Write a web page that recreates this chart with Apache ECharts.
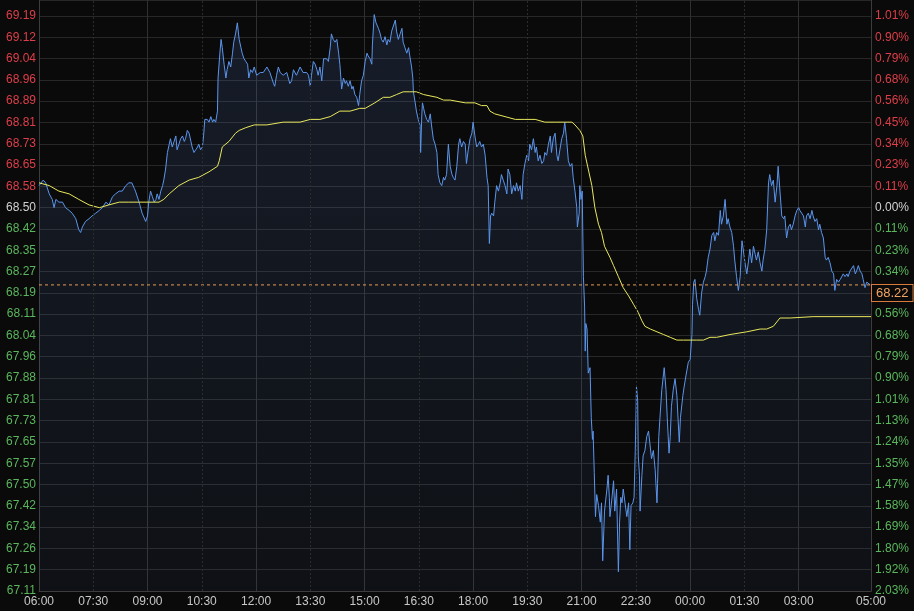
<!DOCTYPE html>
<html><head><meta charset="utf-8">
<script src="https://cdn.jsdelivr.net/npm/echarts@6/dist/echarts.min.js"></script>
<style>html,body{margin:0;padding:0;background:#0a0a0a}#c{width:914px;height:611px}</style>
</head><body><div id="c"></div>
<script>
// minutes since the 06:00 session open
const sessionOpenMinutes = 360;
const sessionLengthMinutes = 1380;
const prevClose = 68.50;
const lastPrice = 68.22;
const yMin = 67.1104, yStep = 0.0772, yMax = 69.2528;
const xLabelMinutes = [0, 90, 180, 270, 360, 450, 540, 630, 720, 810, 900, 990, 1080, 1170, 1260, 1380];
const xDottedMinutes = [90, 270, 450, 630, 810, 990, 1170];

const priceTicks = [
[0,68.58],[7,68.60],[11,68.59],[17,68.55],[22,68.53],[25,68.50],[28,68.53],[33,68.52],[39,68.52],[44,68.50],
[50,68.49],[55,68.48],[61,68.46],[66,68.42],[69,68.41],[72,68.43],[77,68.45],[83,68.46],[88,68.47],[94,68.48],
[100,68.49],[105,68.50],[111,68.52],[116,68.51],[122,68.54],[127,68.55],[133,68.56],[138,68.56],[144,68.58],[149,68.59],
[154,68.59],[158,68.57],[160,68.56],[166,68.52],[171,68.48],[177,68.45],[180,68.47],[182,68.52],[185,68.56],[188,68.54],
[191,68.52],[194,68.53],[196,68.55],[199,68.53],[202,68.56],[205,68.58],[207,68.60],[210,68.64],[213,68.70],[216,68.73],
[218,68.75],[221,68.72],[224,68.74],[227,68.76],[229,68.71],[232,68.73],[235,68.75],[238,68.76],[241,68.74],[243,68.75],
[246,68.78],[249,68.77],[252,68.74],[254,68.72],[257,68.70],[260,68.71],[263,68.72],[265,68.73],[268,68.71],[271,68.72],
[273,68.76],[275,68.82],[279,68.82],[282,68.81],[285,68.83],[288,68.81],[290,68.82],[293,68.81],[296,68.85],[297,68.97],
[300,69.06],[302,69.11],[304,69.08],[307,69.02],[310,68.97],[312,69.00],[315,69.03],[318,69.01],[321,69.06],[323,69.10],
[326,69.13],[329,69.17],[332,69.11],[335,69.08],[337,69.06],[340,69.04],[343,69.03],[346,69.02],[348,68.97],[351,69.00],
[354,68.99],[357,69.01],[361,68.98],[367,68.99],[372,68.99],[378,69.01],[380,69.01],[383,68.99],[389,68.95],[391,68.94],
[394,68.98],[397,69.01],[400,68.99],[405,68.98],[411,68.99],[416,68.95],[419,68.96],[422,69.00],[427,68.98],[433,69.01],
[438,68.99],[444,68.99],[447,68.98],[450,68.94],[452,68.98],[455,69.03],[458,69.02],[461,69.00],[463,68.98],[466,69.01],
[469,68.96],[472,69.04],[474,69.04],[477,69.04],[480,69.03],[483,69.08],[485,69.13],[488,69.11],[491,69.10],[494,69.11],
[497,69.06],[499,69.02],[502,68.93],[505,68.97],[508,68.95],[510,68.96],[513,68.94],[516,68.96],[519,68.93],[521,68.94],
[524,68.91],[527,68.90],[530,68.87],[532,68.91],[535,68.96],[538,68.98],[541,69.03],[544,69.06],[546,69.05],[549,69.04],
[552,69.02],[553,69.09],[556,69.20],[559,69.17],[563,69.15],[566,69.13],[568,69.11],[571,69.10],[574,69.12],[577,69.09],
[579,69.11],[582,69.10],[585,69.14],[588,69.14],[591,69.18],[593,69.14],[596,69.11],[599,69.13],[602,69.15],[604,69.10],
[607,69.08],[610,69.06],[613,69.08],[615,69.05],[618,69.01],[620,68.97],[621,68.92],[624,68.88],[626,68.85],[629,68.82],
[632,68.80],[633,68.70],[635,68.84],[636,68.88],[638,68.86],[640,68.84],[643,68.82],[646,68.81],[649,68.84],[651,68.80],
[654,68.75],[657,68.73],[660,68.70],[662,68.62],[665,68.59],[668,68.58],[671,68.61],[673,68.60],[676,68.62],[679,68.73],
[682,68.65],[685,68.62],[687,68.61],[690,68.60],[693,68.65],[696,68.73],[698,68.75],[701,68.72],[704,68.74],[707,68.73],
[709,68.66],[712,68.71],[715,68.75],[718,68.77],[720,68.81],[723,68.76],[726,68.72],[729,68.73],[731,68.74],[734,68.72],
[737,68.73],[740,68.69],[743,68.61],[745,68.58],[747,68.37],[749,68.47],[751,68.48],[754,68.47],[756,68.52],[759,68.58],
[762,68.56],[765,68.59],[767,68.62],[770,68.60],[773,68.58],[776,68.55],[778,68.64],[781,68.62],[784,68.55],[787,68.58],
[790,68.56],[792,68.59],[795,68.56],[798,68.58],[801,68.53],[803,68.62],[806,68.66],[809,68.69],[812,68.67],[814,68.73],
[817,68.71],[820,68.75],[823,68.70],[825,68.72],[828,68.67],[831,68.69],[834,68.66],[837,68.67],[839,68.70],[842,68.69],
[845,68.73],[848,68.76],[850,68.70],[853,68.75],[856,68.77],[859,68.69],[861,68.67],[864,68.71],[867,68.75],[870,68.77],
[872,68.81],[875,68.75],[878,68.67],[881,68.65],[884,68.66],[886,68.61],[889,68.56],[892,68.50],[893,68.43],[896,68.48],
[897,68.58],[899,68.53],[901,68.56],[903,68.25],[905,68.14],[906,67.98],[907,68.08],[909,68.06],[911,67.90],[914,67.92],
[916,67.74],[918,67.66],[919,67.69],[921,67.54],[923,67.38],[925,67.46],[928,67.42],[931,67.36],[933,67.43],[935,67.22],
[938,67.40],[942,67.48],[944,67.53],[946,67.45],[947,67.38],[950,67.44],[953,67.51],[955,67.40],[958,67.48],[961,67.18],
[963,67.36],[965,67.45],[967,67.43],[969,67.48],[972,67.43],[975,67.38],[978,67.43],[980,67.26],[982,67.42],[985,67.43],
[987,67.45],[989,67.62],[991,67.85],[993,67.80],[994,67.60],[996,67.53],[997,67.40],[1000,67.53],[1002,67.60],[1005,67.62],
[1008,67.67],[1011,67.69],[1013,67.65],[1016,67.59],[1019,67.62],[1022,67.55],[1025,67.43],[1026,67.50],[1028,67.67],[1030,67.74],
[1033,67.84],[1036,67.90],[1037,67.92],[1040,67.84],[1042,67.74],[1045,67.61],[1047,67.67],[1049,67.78],[1052,67.84],[1055,67.88],
[1058,67.82],[1061,67.69],[1062,67.65],[1064,67.74],[1068,67.82],[1070,67.85],[1073,67.89],[1077,67.94],[1080,67.95],[1083,68.04],
[1084,68.15],[1086,68.23],[1088,68.24],[1091,68.17],[1094,68.13],[1096,68.11],[1099,68.19],[1102,68.23],[1105,68.25],[1107,68.27],
[1110,68.32],[1113,68.35],[1116,68.40],[1119,68.41],[1121,68.38],[1124,68.41],[1127,68.40],[1130,68.49],[1132,68.44],[1135,68.47],
[1138,68.53],[1141,68.44],[1143,68.46],[1146,68.43],[1149,68.41],[1152,68.36],[1154,68.31],[1157,68.25],[1160,68.20],[1163,68.25],
[1166,68.38],[1168,68.35],[1171,68.30],[1174,68.26],[1177,68.31],[1179,68.35],[1182,68.30],[1185,68.36],[1188,68.33],[1190,68.31],
[1193,68.34],[1196,68.30],[1199,68.27],[1201,68.31],[1204,68.35],[1207,68.42],[1210,68.59],[1212,68.62],[1215,68.58],[1218,68.60],
[1221,68.52],[1224,68.58],[1226,68.65],[1229,68.56],[1232,68.47],[1235,68.46],[1237,68.47],[1240,68.39],[1243,68.43],[1246,68.44],
[1248,68.42],[1251,68.44],[1254,68.47],[1257,68.49],[1260,68.50],[1262,68.49],[1265,68.49],[1268,68.47],[1271,68.43],[1273,68.47],
[1276,68.48],[1279,68.46],[1282,68.49],[1284,68.47],[1287,68.45],[1290,68.46],[1293,68.42],[1295,68.44],[1298,68.41],[1301,68.39],
[1304,68.32],[1306,68.31],[1309,68.32],[1312,68.30],[1315,68.27],[1318,68.26],[1320,68.20],[1323,68.24],[1326,68.23],[1329,68.24],
[1331,68.24],[1334,68.26],[1337,68.25],[1340,68.26],[1342,68.25],[1345,68.27],[1348,68.27],[1351,68.29],[1354,68.26],[1356,68.27],
[1359,68.29],[1362,68.27],[1365,68.26],[1367,68.24],[1370,68.21],[1373,68.23],[1376,68.23],[1379,68.22],[1380,68.22]
];

const averagePrice = [
[0,68.59],[17,68.58],[33,68.56],[50,68.55],[66,68.53],[83,68.51],[100,68.50],[116,68.51],[133,68.52],[149,68.52],
[166,68.52],[182,68.52],[199,68.52],[207,68.53],[216,68.55],[232,68.58],[249,68.60],[265,68.61],[282,68.63],[296,68.65],
[299,68.67],[304,68.72],[315,68.74],[326,68.77],[332,68.78],[343,68.79],[357,68.80],[378,68.80],[405,68.81],[433,68.81],
[450,68.82],[466,68.82],[483,68.83],[499,68.85],[516,68.85],[532,68.86],[541,68.86],[549,68.87],[557,68.88],[571,68.90],
[582,68.90],[593,68.91],[604,68.92],[615,68.92],[626,68.92],[638,68.91],[660,68.90],[671,68.89],[682,68.89],[707,68.88],
[723,68.88],[734,68.87],[743,68.87],[748,68.85],[756,68.84],[773,68.83],[790,68.82],[806,68.82],[823,68.82],[839,68.81],
[856,68.81],[872,68.81],[884,68.81],[889,68.80],[897,68.78],[902,68.76],[906,68.69],[911,68.64],[917,68.58],[922,68.50],
[928,68.44],[933,68.41],[938,68.36],[947,68.32],[953,68.29],[961,68.25],[969,68.21],[978,68.18],[986,68.15],[994,68.12],
[1000,68.09],[1005,68.07],[1014,68.06],[1025,68.05],[1036,68.04],[1047,68.03],[1058,68.02],[1069,68.02],[1080,68.02],[1091,68.02],
[1102,68.02],[1113,68.03],[1124,68.03],[1146,68.04],[1174,68.05],[1196,68.06],[1207,68.06],[1218,68.07],[1229,68.10],[1246,68.10],
[1284,68.105],[1312,68.105],[1380,68.105]
];

const fontFamily = 'Liberation Sans, Arial, sans-serif';
function clockLabel(m) {
  const t = (sessionOpenMinutes + Number(m)) % 1440;
  const h = Math.floor(t / 60), mm = Math.round(t % 60);
  return String(h).padStart(2, '0') + ':' + String(mm).padStart(2, '0');
}
function sideColor(v) {
  v = Number(v);
  if (Math.abs(v - prevClose) < 1e-6) return '#d2d2d2';
  return v > prevClose ? '#de3e49' : '#5ab65d';
}

const chart = echarts.init(document.getElementById('c'));
chart.setOption({
  backgroundColor: '#0a0a0a',
  animation: false,
  grid: { left: 39, right: 43, top: 0, bottom: 20 },
  xAxis: {
    type: 'value', min: 0, max: sessionLengthMinutes, interval: 180,
    axisLine: { show: true, lineStyle: { color: '#3c3c3c' } },
    axisTick: { show: false },
    splitLine: { show: true, lineStyle: { color: '#303030', width: 1 } },
    axisLabel: { customValues: xLabelMinutes, formatter: clockLabel, color: '#c8c8c8', fontSize: 12, fontFamily: fontFamily, margin: 5 }
  },
  yAxis: [{
    type: 'value', position: 'left', min: yMin, max: yMax, interval: yStep, scale: true,
    axisLine: { show: true, lineStyle: { color: '#3c3c3c' } },
    axisTick: { show: false },
    splitLine: { show: true, lineStyle: { color: '#272727', width: 1 } },
    axisLabel: { showMaxLabel: false, margin: 3, fontSize: 12, fontFamily: fontFamily,
      formatter: v => Number(v).toFixed(2), color: sideColor }
  }, {
    type: 'value', position: 'right', min: yMin, max: yMax, interval: yStep, scale: true,
    axisLine: { show: true, lineStyle: { color: '#3c3c3c' } },
    axisTick: { show: false },
    splitLine: { show: false },
    axisLabel: { showMaxLabel: false, margin: 4, fontSize: 12, fontFamily: fontFamily,
      formatter: v => Math.abs((Number(v) - prevClose) / prevClose * 100).toFixed(2) + '%', color: sideColor }
  }],
  series: [{
    type: 'line', name: 'price', data: priceTicks, showSymbol: false, symbol: 'none',
    lineStyle: { color: '#5b95ec', width: 1 },
    itemStyle: { color: '#5b95ec' },
    areaStyle: { color: new echarts.graphic.LinearGradient(0, 0, 0, 1, [
      { offset: 0, color: 'rgba(90,130,210,0.22)' },
      { offset: 1, color: 'rgba(90,130,210,0.08)' }]) }
  }, {
    type: 'line', name: 'average', data: averagePrice, showSymbol: false, symbol: 'none',
    lineStyle: { color: '#e8e85c', width: 1 },
    itemStyle: { color: '#e8e85c' },
    markLine: {
      silent: true, symbol: 'none', animation: false,
      label: { show: false },
      lineStyle: { color: '#2c2c2c', type: [2, 2], width: 1 },
      data: xDottedMinutes.map(m => ({ xAxis: m }))
    }
  }, {
    type: 'line', name: 'last', silent: true, showSymbol: false, symbol: 'none',
    data: [[0, lastPrice], [sessionLengthMinutes, lastPrice]],
    lineStyle: { color: '#e59a58', type: [3, 3], width: 1 },
    itemStyle: { color: '#e59a58' },
    endLabel: { show: true, formatter: () => lastPrice.toFixed(2),
      color: '#f2a462', fontSize: 13, fontFamily: fontFamily, backgroundColor: '#0a0a0a',
      borderColor: '#d97a3c', borderWidth: 1, padding: [2, 4, 1, 4], distance: 1, verticalAlign: 'top' }
  }]
});
</script>
</body></html>
